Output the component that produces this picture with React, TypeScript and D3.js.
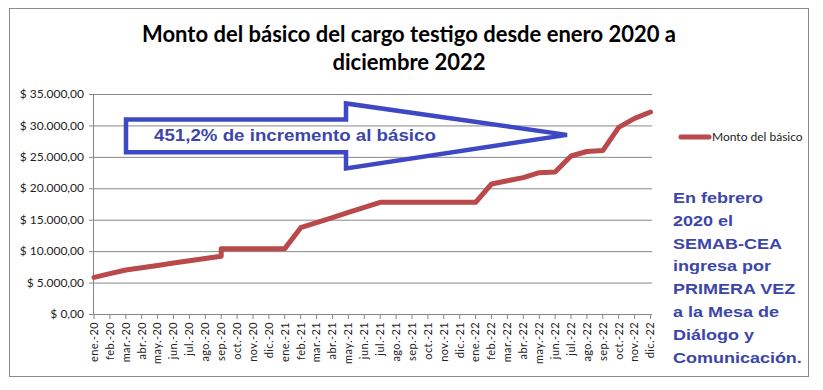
import * as d3 from "d3";

const months = [
  "ene.-20", "feb.-20", "mar.-20", "abr.-20", "may.-20", "jun.-20", "jul.-20", "ago.-20", "sep.-20", "oct.-20", "nov.-20", "dic.-20",
  "ene.-21", "feb.-21", "mar.-21", "abr.-21", "may.-21", "jun.-21", "jul.-21", "ago.-21", "sep.-21", "oct.-21", "nov.-21", "dic.-21",
  "ene.-22", "feb.-22", "mar.-22", "abr.-22", "may.-22", "jun.-22", "jul.-22", "ago.-22", "sep.-22", "oct.-22", "nov.-22", "dic.-22",
];

const basico = [
  5830, 6420, 7000, 7370, 7730, 8100, 8470, 8830, 10400, 10400, 10400, 10400,
  10400, 13730, 14540, 15350, 16150, 16960, 17770, 17770, 17770, 17770, 17770, 17770,
  17770, 20680, 21200, 21690, 22480, 22590, 25135, 25850, 26000, 29700, 31130, 32135,
];

// in sep.-20 the line climbs to this value first, then jumps straight up
const sepBeforeJump = { month: "sep.-20", value: 9200 };

const yTicks = [0, 5000, 10000, 15000, 20000, 25000, 30000, 35000];

const seriesName = "Monto del básico";
const titleLines = ["Monto del básico del cargo testigo desde enero 2020 a", "diciembre 2022"];
const arrowLabel = "451,2% de incremento al básico";
const noteLines = [
  "En febrero", "2020 el", "SEMAB-CEA", "ingresa por", "PRIMERA VEZ", "a la Mesa de", "Diálogo y", "Comunicación.",
];

const W = 823;
const H = 390;
const plot = { left: 94, right: 650.5, top: 94, bottom: 314 };
const lineColor = "#b9494a";
const gridColor = "#878787";
const blue = "#3f48c4";
const textBlue = "#3c46aa";
const calibri = "Lato, 'Open Sans', sans-serif";
const arial = "'Liberation Sans', Arial, sans-serif";

const money = (v: number) => {
  const [int, dec] = v.toFixed(2).split(".");
  return "$ " + int.replace(/\B(?=(\d{3})+(?!\d))/g, ".") + "," + dec;
};

export default function App() {
  const x = d3.scalePoint<string>().domain(months).range([plot.left, plot.right]);
  const y = d3.scaleLinear().domain([0, 35000]).range([plot.bottom, plot.top]);

  const points: [string, number][] = [];
  months.forEach((m, i) => {
    if (m === sepBeforeJump.month) points.push([m, sepBeforeJump.value]);
    points.push([m, basico[i]]);
  });

  const line = d3
    .line<[string, number]>()
    .x((d) => x(d[0]) as number)
    .y((d) => y(d[1]));

  // arrow outline, positioned on the chart's value scale
  const ax0 = 126, ax1 = 346, ax2 = 567;
  const arrow = [
    [ax0, y(30950)], [ax1, y(30950)], [ax1, y(33500)], [ax2, y(28500)],
    [ax1, y(23150)], [ax1, y(25750)], [ax0, y(25750)],
  ];

  return (
    <svg width={W} height={H} style={{ position: "absolute", left: 0, top: 0, background: "#fff" }}>
      <rect x={9.5} y={8.5} width={799} height={368} fill="#fff" stroke="#8a8a8a" strokeWidth={1} />

      {titleLines.map((t, i) => (
        <text key={t} x={409} y={42 + i * 28} textAnchor="middle" fontFamily={calibri} fontWeight={700} fontSize={22} fill="#000">
          {t}
        </text>
      ))}

      {yTicks.map((t) => (
        <g key={t}>
          {t > 0 && <line x1={plot.left} x2={652} y1={y(t) + 0.5} y2={y(t) + 0.5} stroke={gridColor} strokeWidth={1} />}
          <line x1={plot.left - 5} x2={plot.left} y1={y(t) + 0.5} y2={y(t) + 0.5} stroke={gridColor} strokeWidth={1} />
          <text x={84} y={y(t)} dy="0.35em" textAnchor="end" fontFamily={calibri} fontSize={12} fill="#222">
            {money(t)}
          </text>
        </g>
      ))}

      <line x1={plot.left - 0.5} x2={plot.left - 0.5} y1={plot.top} y2={plot.bottom} stroke={gridColor} />
      <line x1={plot.left} x2={652} y1={plot.bottom + 0.5} y2={plot.bottom + 0.5} stroke={gridColor} />

      {months.map((m) => (
        <g key={m}>
          <line x1={x(m)} x2={x(m)} y1={plot.bottom} y2={plot.bottom + 5} stroke={gridColor} />
          <text
            transform={`translate(${x(m)},${plot.bottom + 8}) rotate(-90)`}
            dy="0.35em"
            textAnchor="end"
            fontFamily={calibri}
            fontSize={11}
            letterSpacing={0.4}
            fill="#222"
          >
            {m}
          </text>
        </g>
      ))}

      <path d={line(points) ?? ""} fill="none" stroke={lineColor} strokeWidth={5} strokeLinejoin="round" strokeLinecap="round" />

      <polygon points={arrow.map((p) => p.join(",")).join(" ")} fill="none" stroke={blue} strokeWidth={4.5} strokeLinejoin="miter" />
      <g transform="translate(154,141) scale(1.17,1)">
        <text x={0} y={0} fontFamily={arial} fontWeight={700} fontSize={16} fill={textBlue}>
          {arrowLabel}
        </text>
      </g>

      <line x1={681} x2={709} y1={137} y2={137} stroke={lineColor} strokeWidth={5} strokeLinecap="round" />
      <text x={712} y={137} dy="0.35em" fontFamily={calibri} fontSize={12} fill="#222">
        {seriesName}
      </text>

      <g transform="translate(673,0) scale(1.2,1)">
        {noteLines.map((t, i) => (
          <text key={t} x={0} y={203 + i * 22.8} fontFamily={arial} fontWeight={700} fontSize={15} fill={textBlue}>
            {t}
          </text>
        ))}
      </g>
    </svg>
  );
}
